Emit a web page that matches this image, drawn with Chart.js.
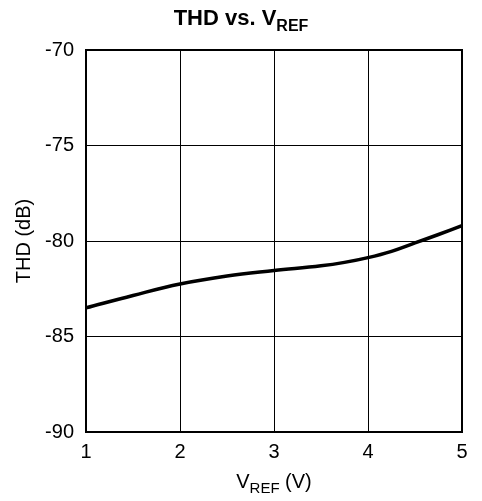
<!DOCTYPE html>
<html>
<head>
<meta charset="utf-8">
<script src="https://cdn.jsdelivr.net/npm/chart.js@4"></script>
<style>
  html, body { margin: 0; padding: 0; background: #fff; }
  #wrap { position: relative; width: 482px; height: 501px; font-family: "Liberation Sans", Arial, sans-serif; color: #000; }
  #title { position: absolute; top: 7px; left: 0; width: 482px; text-align: center; font-weight: bold; font-size: 22px; line-height: 22px; }
  #xlabel { position: absolute; top: 471px; left: 86px; width: 376px; text-align: center; font-size: 20px; line-height: 20px; }
  sub { position: relative; vertical-align: baseline; }
  #title sub { font-size: 16px; top: 6px; }
  #xlabel sub { font-size: 15px; top: 5px; }
</style>
</head>
<body>
<div id="wrap">
  <canvas id="c" width="482" height="501"></canvas>
  <div id="title">THD vs. V<sub>REF</sub></div>
  <div id="xlabel">V<sub>REF</sub> (V)</div>
</div>
<script>
const vref = [1, 1.5, 2, 2.5, 3, 3.5, 3.75, 4, 4.25, 4.5, 4.75, 5];
const thd = [-83.5, -82.85, -82.25, -81.83, -81.55, -81.3, -81.12, -80.87, -80.54, -80.1, -79.66, -79.2];
const xTicks = [1, 2, 3, 4, 5];
const yTicks = [-90, -85, -80, -75, -70];

const frame = {
    id: 'frame',
    afterDatasetsDraw(chart) {
        const a = chart.chartArea;
        const ctx = chart.ctx;
        ctx.save();
        ctx.strokeStyle = '#000';
        ctx.lineWidth = 2;
        ctx.strokeRect(a.left, a.top, a.right - a.left, a.bottom - a.top);
        ctx.restore();
    }
};

const font = { family: '"Liberation Sans", Arial, sans-serif', size: 20 };

new Chart(document.getElementById('c').getContext('2d'), {
    type: 'line',
    data: {
        datasets: [{
            data: vref.map((v, i) => ({ x: v, y: thd[i] })),
            borderColor: '#000',
            borderWidth: 3.5,
            pointRadius: 0,
            tension: 0.4,
            fill: false
        }]
    },
    options: {
        responsive: false,
        animation: false,
        layout: { padding: { top: 50, right: 20, left: 0, bottom: 0 } },
        plugins: { legend: { display: false }, tooltip: { enabled: false } },
        scales: {
            x: {
                type: 'linear',
                min: 1, max: 5,
                afterBuildTicks: (s) => { s.ticks = xTicks.map(v => ({ value: v })); },
                afterFit: (s) => { s.height = 69; },
                grid: { color: '#000', lineWidth: 1, drawTicks: false },
                border: { display: false },
                ticks: { color: '#000', font: font, padding: 8 }
            },
            y: {
                min: -90, max: -70,
                afterBuildTicks: (s) => { s.ticks = yTicks.map(v => ({ value: v })); },
                afterFit: (s) => { s.width = 86; },
                grid: { color: '#000', lineWidth: 1, drawTicks: false },
                border: { display: false },
                ticks: { color: '#000', font: font, padding: 12 },
                title: { display: true, text: 'THD (dB)', color: '#000', font: font, padding: { top: 12, bottom: 0 } }
            }
        }
    },
    plugins: [frame]
});
</script>
</body>
</html>
